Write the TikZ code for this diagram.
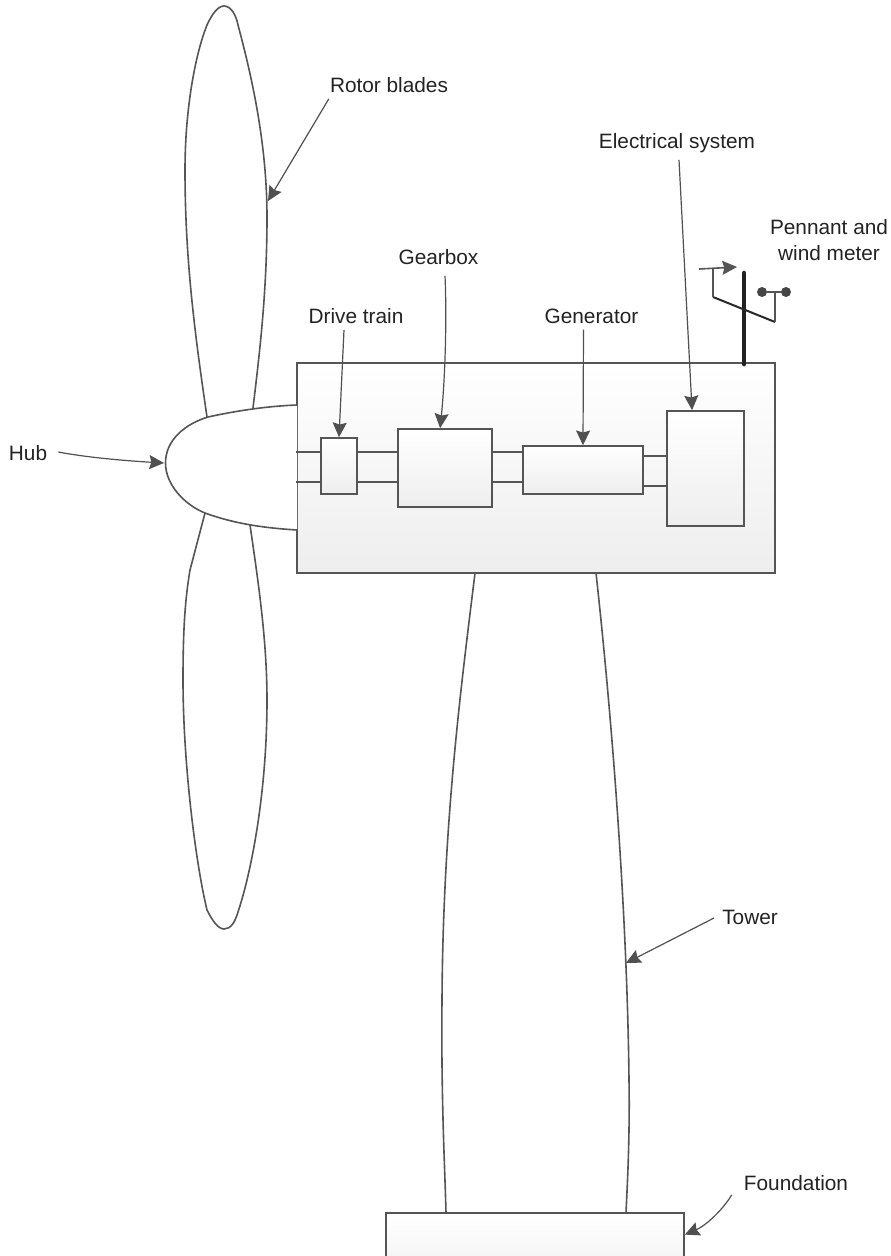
\documentclass[tikz,border=0pt]{standalone}
\usepackage{fontspec}
\setmainfont{Liberation Sans}
\usetikzlibrary{arrows.meta}

\begin{document}
\begin{tikzpicture}[x=0.75pt,y=0.75pt,yscale=-1,xscale=1,
  outline/.style={draw={rgb,255:red,85;green,85;blue,85},line width=1.2pt},
  unitbox/.style={outline,rectangle,inner sep=0pt,top color=white,bottom color={rgb,255:red,238;green,238;blue,238}},
  pointer/.style={draw={rgb,255:red,80;green,80;blue,80},line width=0.9pt,-{Stealth[length=11pt,width=10.5pt,inset=1.5pt]}},
  caption/.style={font=\fontsize{15.6}{19.5}\selectfont,text={rgb,255:red,34;green,34;blue,34},align=center,inner sep=1.5pt}]
\path [use as bounding box,clip] (0,0) rectangle (891,1256);

%Upper blade
\draw [outline] (207,417) .. controls (195,335) and (185,260) .. (185,170) .. controls (185,110) and (195,55) .. (207,25) .. controls (212,14) and (218,6) .. (224,6) .. controls (231,6) and (236,15) .. (238,25) .. controls (250,70) and (267,140) .. (267,217) .. controls (267,290) and (260,350) .. (253,408) ;
%Lower blade
\draw [outline] (205,513) -- (190,570) .. controls (185,600) and (183,630) .. (183,680) .. controls (183,760) and (195,860) .. (207,910) .. controls (212,920) and (218,929) .. (224,929) .. controls (231,929) and (235,922) .. (238,912) .. controls (252,870) and (267,790) .. (267,700) .. controls (267,640) and (258,580) .. (250,525) ;

%Nacelle
\node [unitbox,minimum width=358.5pt,minimum height=157.5pt] (nacelle) at (536,468) {};
%Hub
\draw [outline,fill=white] (297,405) .. controls (270,406) and (240,410) .. (208,417) .. controls (185,424) and (165.5,440) .. (165.5,463) .. controls (165.5,485) and (185,505) .. (205,513) .. controls (235,524) and (265,528) .. (297,530) ;

%Tower
\draw [outline] (475,573) .. controls (462,680) and (443,820) .. (442,1000) .. controls (441,1100) and (445,1170) .. (446,1213) ;
\draw [outline] (596,573) .. controls (610,700) and (627,900) .. (629,1080) .. controls (630,1140) and (627,1190) .. (626,1213) ;
%Foundation
\node [unitbox,minimum width=223.5pt,minimum height=60pt] (foundation) at (535,1253) {};

%Boxes in the nacelle
\node [unitbox,minimum width=27pt,minimum height=42pt] (drivebox) at (339,466) {};
\node [unitbox,minimum width=70.5pt,minimum height=58.5pt] (gearbox) at (445,468) {};
\node [unitbox,minimum width=90pt,minimum height=36pt] (generatorbox) at (583,470) {};
\node [unitbox,minimum width=57.75pt,minimum height=86.25pt] (electricalbox) at (705.5,468.5) {};

%Shafts
\foreach \y in {452,482} {
  \draw [outline] (nacelle.west |- 0,\y) -- (drivebox.west |- 0,\y) ;
  \draw [outline] (drivebox.east |- 0,\y) -- (gearbox.west |- 0,\y) ;
  \draw [outline] (gearbox.east |- 0,\y) -- (generatorbox.west |- 0,\y) ;
}
\foreach \y in {456,486} {
  \draw [outline] (generatorbox.east |- 0,\y) -- (electricalbox.west |- 0,\y) ;
}

%Pennant and wind meter
\draw [line width=3.4pt,line cap=round,draw={rgb,255:red,34;green,34;blue,34}] (744,273) -- (744,364) ;
\draw [line width=1.5pt,draw={rgb,255:red,40;green,40;blue,40}] (713,297) -- (775,322) ;
\draw [outline] (713,297) -- (713,269) ;
\draw [outline] (775,322) -- (775,292) ;
\draw [outline,-{Stealth[length=11pt,width=10.5pt,inset=1.5pt]}] (699,269) -- (737,267) ;
\node [circle,inner sep=0pt,minimum size=7.5pt,fill={rgb,255:red,70;green,70;blue,70}] (dotleft) at (762,292) {};
\node [circle,inner sep=0pt,minimum size=7.5pt,fill={rgb,255:red,70;green,70;blue,70}] (dotright) at (786,292) {};
\draw [outline] (dotleft) -- (dotright) ;

% Text Nodes
\node [caption] (bladeslabel) at (389,85) {Rotor blades};
\node [caption] (electricallabel) at (677,143) {Electrical system};
\node [caption] (pennantlabel) at (829,240) {Pennant and\\wind meter};
\node [caption] (gearboxlabel) at (438.5,257) {Gearbox};
\node [caption] (drivelabel) at (356,316) {Drive train};
\node [caption] (generatorlabel) at (591.5,316) {Generator};
\node [caption] (hublabel) at (28,453) {Hub};
\node [caption] (towerlabel) at (750,917) {Tower};
\node [caption] (foundationlabel) at (796,1183) {Foundation};

%Free ends
\coordinate (bladetip) at (268,201);
\coordinate (hubtip) at (164,463);
\coordinate (towertip) at (626,963);

%Pointers
\draw [pointer] (bladeslabel.south west) ++(1,4) -- (bladetip) ;
\draw [pointer] (electricallabel.south) ++(2,5) -- (electricalbox.103) ;
\draw [pointer] (gearboxlabel.south) ++(6.5,9) .. controls (447,320) and (445,380) .. (gearbox.97) ;
\draw [pointer] (drivelabel.south) ++(-12,4) -- (drivebox.north) ;
\draw [pointer] (generatorlabel.south) ++(-8,4) -- (generatorbox.north) ;
\draw [pointer] (hublabel.east) ++(9,-1) .. controls (90,458) and (130,461) .. (hubtip) ;
\draw [pointer] (towerlabel.west) ++(-6,1) -- (towertip) ;
\draw [pointer] (foundationlabel.south west) ++(-10,2) .. controls (722,1211) and (705,1226) .. (foundation.7) ;

\end{tikzpicture}
\end{document}
